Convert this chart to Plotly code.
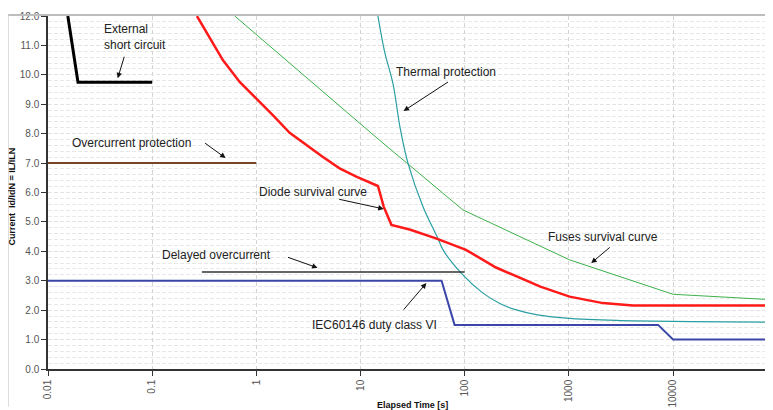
import plotly.graph_objects as go
import math

# ---------------- data ----------------
short_t = [0.0155, 0.0194, 0.1]
short_i = [12.0, 9.75, 9.75]

over_t = [0.01, 1.0]
over_i = [7.0, 7.0]

delayed_t = [0.3, 100.0]
delayed_i = [3.3, 3.3]

iec_t = [0.01, 60.0, 80.0, 7200.0, 10000.0, 95000.0]
iec_i = [3.0, 3.0, 1.5, 1.5, 1.0, 1.0]

diode_t = [0.269, 0.356, 0.477, 0.692, 1.0, 1.44, 2.09, 3.02, 4.36, 6.3, 9.12, 14.7,
           16.7, 19.8, 29.6, 53.0, 103.0, 200.0, 533.0, 1017.0, 2125.0, 4115.0, 95000.0]
diode_i = [12.0, 11.29, 10.50, 9.76, 9.20, 8.63, 8.03, 7.61, 7.21, 6.82, 6.54, 6.22,
           5.52, 4.90, 4.74, 4.44, 4.05, 3.45, 2.80, 2.46, 2.24, 2.16, 2.16]

thermal_t = [14.7, 17.0, 20.5, 24.0, 28.6, 40.0, 55.4, 62.0, 96.0, 150.0, 220.0, 313.0, 500.0, 944.0, 2850.0, 95000.0]
thermal_i = [12.0, 10.8, 9.70, 8.20, 6.99, 5.50, 4.44, 4.05, 3.20, 2.58, 2.22, 2.01, 1.84, 1.73, 1.65, 1.59]

fuse_t = [0.62, 15.2, 96.0, 607.0, 1017.0, 10000.0, 95000.0]
fuse_i = [12.0, 7.78, 5.41, 4.10, 3.71, 2.54, 2.35]

xtick_vals = [0.01, 0.1, 1, 10, 100, 1000, 10000]
xtick_text = ["0.01", "0.1", "1", "10", "100", "1000", "10000"]

labels = ["External<br>short circuit", "Overcurrent protection", "Thermal protection",
          "Diode survival curve", "Delayed overcurrent", "IEC60146 duty class VI",
          "Fuses survival curve"]
label_t = [0.0327, 0.0161, 21.2, 1.022, 0.118, 3.25, 607.0]
label_i = [11.28, 7.68, 10.09, 6.03, 3.88, 1.50, 4.50]

arrow_t = [0.0467, 0.507, 25.9, 16.7, 3.87, 42.9, 1641.0]
arrow_i = [9.885, 7.17, 8.77, 5.44, 3.44, 2.92, 3.60]
arrow_dx = [7, -22, 46, -46, -31, -24, 20]
arrow_dy = [-23, -16, -30, -10, -11, 28, -17]

# ---------------- figure ----------------
fig = go.Figure()

def add(t, i, color, width, shape="linear"):
    fig.add_trace(go.Scatter(x=t, y=i, mode="lines",
                             line=dict(color=color, width=width, shape=shape),
                             showlegend=False, hoverinfo="skip"))

add(fuse_t, fuse_i, "#3db04a", 1)
add(thermal_t, thermal_i, "#2a9fa3", 1.2, "spline")
add(iec_t, iec_i, "#3b46a8", 2)
add(delayed_t, delayed_i, "#333333", 1.5)
add(over_t, over_i, "#7a4526", 2)
add(diode_t, diode_i, "#ff1a1a", 2.5)
add(short_t, short_i, "#000000", 3)

annotations = []
for txt, t, i in zip(labels, label_t, label_i):
    annotations.append(dict(x=math.log10(t), y=i, xref="x", yref="y", text=txt,
                            showarrow=False, xanchor="left", yanchor="middle",
                            align="left",
                            font=dict(family="Liberation Sans, Arial", size=12, color="#222222")))
for t, i, dx, dy in zip(arrow_t, arrow_i, arrow_dx, arrow_dy):
    annotations.append(dict(x=math.log10(t), y=i, xref="x", yref="y", text="",
                            showarrow=True, ax=dx, ay=dy, arrowhead=2, arrowsize=1.1,
                            arrowwidth=1, arrowcolor="#111111", standoff=0))

# axis titles
annotations.append(dict(x=-0.049, y=0.49, xref="paper", yref="paper",
                        text="<b>Current  Id/IdN = IL/ILN</b>", textangle=-90,
                        showarrow=False, xanchor="center", yanchor="middle",
                        font=dict(family="Liberation Sans, Arial", size=9, color="#111111")))
annotations.append(dict(x=0.503, y=-0.101, xref="paper", yref="paper",
                        text="<b>Elapsed Time [s]</b>",
                        showarrow=False, xanchor="center", yanchor="middle",
                        font=dict(family="Liberation Sans, Arial", size=9, color="#111111")))

shapes = [
    dict(type="line", xref="paper", yref="paper", x0=-0.0552, x1=1.0, y0=1.003, y1=1.003,
         line=dict(color="#bdbdbd", width=2)),
    dict(type="line", xref="paper", yref="paper", x0=-0.0552, x1=-0.0552, y0=1.003, y1=-0.107,
         line=dict(color="#d0d0d0", width=1.5)),
]

# the page places the figure 8px in from the top-left corner
fig.update_layout(
    width=765, height=402,
    margin=dict(l=40, r=0, t=8, b=41, autoexpand=False),
    paper_bgcolor="white", plot_bgcolor="white",
    annotations=annotations, shapes=shapes,
    font=dict(family="Liberation Sans, Arial", size=10, color="#555555"),
)

fig.update_xaxes(type="log", range=[-2, 4.96], tickvals=xtick_vals, ticktext=xtick_text,
                 tickangle=-90, ticks="outside", ticklen=5, tickcolor="#333333",
                 showline=True, linecolor="#333333", linewidth=1.5, automargin=False,
                 showgrid=True, gridcolor="#d4d4d4", griddash="4px,3px", gridwidth=1,
                 tickfont=dict(size=10, color="#555555"), zeroline=False)
fig.update_yaxes(range=[0, 12], dtick=1, tickformat=".1f", automargin=False,
                 ticks="outside", ticklen=5, tickcolor="#333333",
                 showline=True, linecolor="#333333", linewidth=1.5,
                 showgrid=True, gridcolor="#e2e2e2", griddash="4px,2px", gridwidth=1,
                 minor=dict(dtick=0.2, showgrid=True, gridcolor="#e8e8e8", griddash="4px,2px", ticks=""),
                 tickfont=dict(size=10, color="#555555"), zeroline=False)

fig.write_html("out.html")
